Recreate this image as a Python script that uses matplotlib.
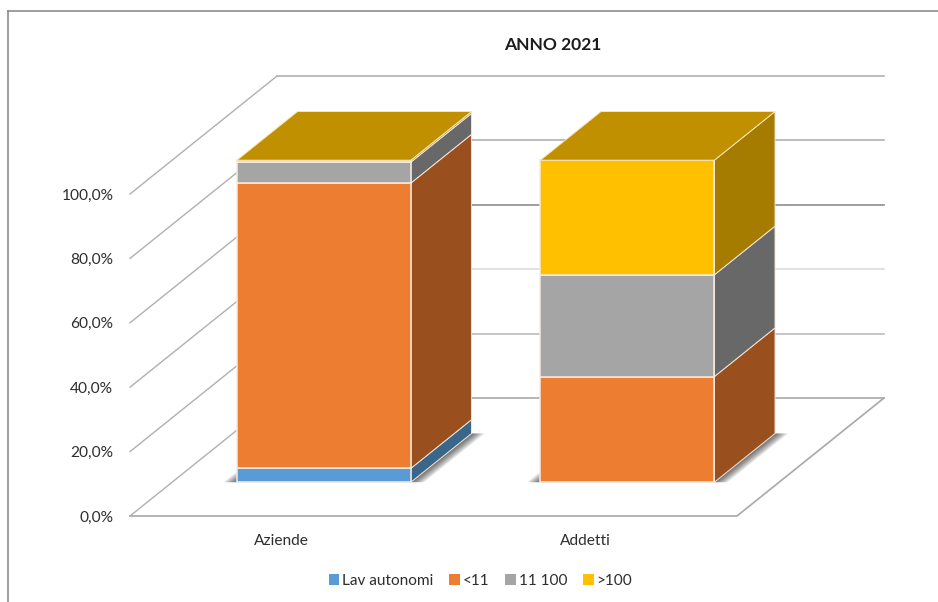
import matplotlib
matplotlib.use("Agg")
import matplotlib.pyplot as plt
from matplotlib.patches import Polygon, Patch
from matplotlib.lines import Line2D

plt.rcParams['font.family'] = ['Lato', 'DejaVu Sans']

title = "ANNO 2021"
categories = ["Aziende", "Addetti"]
series_names = ["Lav autonomi", "<11", "11 100", ">100"]
lav_autonomi = [4.3, 0.0]
lt_11 = [88.6, 32.8]
from_11_100 = [6.5, 31.6]
gt_100 = [0.6, 35.6]
y_ticks = [0, 20, 40, 60, 80, 100]
y_labels = ["0,0%", "20,0%", "40,0%", "60,0%", "80,0%", "100,0%"]

front_colors = ["#5B9BD5", "#ED7D31", "#A5A5A5", "#FFC000"]
side_colors = ["#3A6689", "#9A4F1E", "#686868", "#A67C00"]
top_color = "#C09000"
grid_colors = ["#a8a8a8", "#bcbcbc", "#dcdcdc", "#8c8c8c", "#b0b0b0", "#b0b0b0"]
side_grid_color = "#b0b0b0"
text_color = "#2e2e2e"

W, H = 938, 602
fig = plt.figure(figsize=(W / 100, H / 100), dpi=100, facecolor="white")
ax = fig.add_axes([130 / W, (H - 516) / H, 607 / W, 322 / H])
ax.set_xlim(0, 2)
ax.set_ylim(0, 100)
ax.patch.set_alpha(0)
for s in ax.spines.values():
    s.set_visible(False)

# oblique projection: one unit of depth moves a point right and up
DX, DY = 147 / 303.5, 118 / 3.22
BAR_D0, BAR_D1 = 33.8 / 118, 82.5 / 118
BAR_W = 174 / 303.5


def proj(x, v, d):
    return (x + d * DX, v + d * DY)


def poly(pts, **kw):
    kw.setdefault("clip_on", False)
    ax.add_patch(Polygon([proj(*p) for p in pts], closed=True, **kw))


# walls and floor
for t, c in zip(y_ticks, grid_colors):
    xs, ys = zip(proj(0, t, 0), proj(0, t, 1), proj(2, t, 1))
    ax.plot(xs[:2], ys[:2], color=side_grid_color, lw=1, clip_on=False, zorder=1)
    ax.plot(xs[1:], ys[1:], color=c, lw=1.2, clip_on=False, zorder=1)
xs, ys = zip(proj(0, 0, 0), proj(2, 0, 0), proj(2, 0, 1))
ax.plot(xs, ys, color="#a8a8a8", lw=1.2, clip_on=False, zorder=1)

# bars
stack = [lav_autonomi, lt_11, from_11_100, gt_100]
for i, cat in enumerate(categories):
    x0 = i + 0.5 - BAR_W / 2
    x1 = x0 + BAR_W
    # soft shadow on the floor
    for e in (13, 11, 9, 7, 5, 3):
        ex = e / 303.5
        poly([(x0 - ex, 0, BAR_D0), (x1 + ex, 0, BAR_D0),
              (x1 + ex, 0, BAR_D1), (x0 - ex, 0, BAR_D1)],
             facecolor="black", edgecolor="none", alpha=0.11, zorder=2)
    base = 0.0
    for vals, fc, sc in zip(stack, front_colors, side_colors):
        v = vals[i]
        if v <= 0:
            continue
        top = base + v
        poly([(x1, base, BAR_D0), (x1, base, BAR_D1), (x1, top, BAR_D1), (x1, top, BAR_D0)],
             facecolor=sc, edgecolor="#f3e6d8", lw=0.7, zorder=3)
        poly([(x0, base, BAR_D0), (x1, base, BAR_D0), (x1, top, BAR_D0), (x0, top, BAR_D0)],
             facecolor=fc, edgecolor="#f6ece2", lw=1.1, zorder=4)
        base = top
    poly([(x0, base, BAR_D0), (x1, base, BAR_D0), (x1, base, BAR_D1), (x0, base, BAR_D1)],
         facecolor=top_color, edgecolor="#f5e6b8", lw=0.7, zorder=5)

# axes text
ax.set_yticks(y_ticks)
ax.set_yticklabels(y_labels, fontsize=11.2, color=text_color)
ax.set_xticks([i + 0.5 for i in range(len(categories))])
ax.set_xticklabels(categories, fontsize=11.2, color=text_color)
ax.tick_params(axis="y", length=0, pad=12)
ax.tick_params(axis="x", length=0, pad=13)

fig.text(553 / W, 1 - 44.5 / H, title, ha="center", va="center",
         fontsize=12.6, fontweight="bold", color="#1c1c1c")

handles = [Patch(facecolor=c, edgecolor="none") for c in front_colors]
fig.legend(handles, series_names, loc="center", bbox_to_anchor=(480.5 / W, 1 - 581 / H),
           ncols=4, frameon=False, fontsize=11.1, labelcolor=text_color,
           handlelength=0.7, handleheight=0.7, handletextpad=0.2,
           columnspacing=1.0, borderpad=0, borderaxespad=0)

# chart frame
for xs, ys in (((8, 8), (602, 11)), ((8, 938), (11, 11))):
    fig.add_artist(Line2D([x / W for x in xs], [1 - y / H for y in ys],
                          color="#8c8c8c", lw=1.2, transform=fig.transFigure))

fig.savefig("out.png", dpi=100)
